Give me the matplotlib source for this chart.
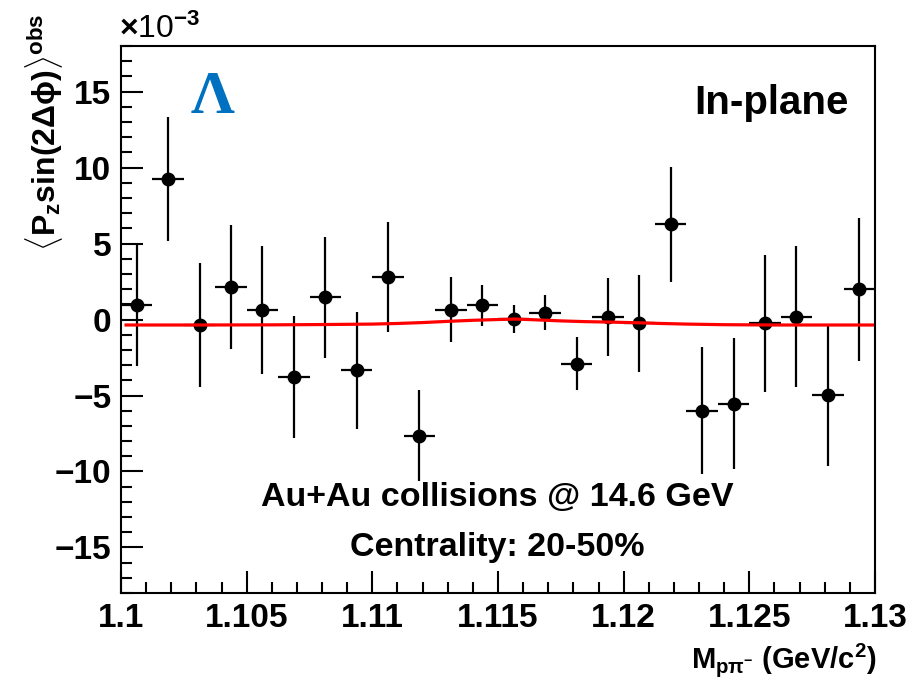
import numpy as np
import matplotlib
matplotlib.use("Agg")
import matplotlib.pyplot as plt
from matplotlib.ticker import MultipleLocator, FuncFormatter

# values in units of 1e-3
bin_lo = 1.1
bin_width = 0.00125
values = [0.97, 9.25, -0.36, 2.14, 0.63, -3.80, 1.46, -3.35, 2.82, -7.65, 0.63, 0.95,
          0.03, 0.45, -2.91, 0.16, -0.25, 6.27, -6.00, -5.54, -0.25, 0.18, -4.99, 1.99]
errors = [4.0, 4.1, 4.1, 4.1, 4.2, 4.0, 4.0, 3.86, 3.62, 3.0, 2.14, 1.35,
          0.93, 1.15, 1.75, 2.55, 3.2, 3.78, 4.17, 4.33, 4.52, 4.63, 4.63, 4.7]

# fit curve
fit_x = [1.1002, 1.103, 1.106, 1.108, 1.110, 1.111, 1.112, 1.113, 1.114, 1.115,
         1.1157, 1.1165, 1.1175, 1.1185, 1.1195, 1.1205, 1.1215, 1.1225, 1.124,
         1.126, 1.128, 1.1299]
fit_y = [-0.36, -0.36, -0.35, -0.33, -0.30, -0.26, -0.20, -0.12, -0.05, 0.0,
         0.03, -0.02, -0.09, -0.14, -0.17, -0.21, -0.26, -0.30, -0.34,
         -0.36, -0.36, -0.36]

centers = [bin_lo + bin_width * (i + 0.5) for i in range(len(values))]

plt.rcParams['font.family'] = ['Liberation Sans', 'DejaVu Sans']
plt.rcParams['font.weight'] = 'bold'
plt.rcParams['mathtext.fontset'] = 'custom'
plt.rcParams['mathtext.rm'] = 'Liberation Sans:bold'
plt.rcParams['mathtext.it'] = 'Liberation Sans:bold'
plt.rcParams['mathtext.bf'] = 'Liberation Sans:bold'

fig = plt.figure(figsize=(9.1, 6.84), dpi=100)
ax = fig.add_axes([0.133, 0.133, 0.8285, 0.7997])

ax.errorbar(centers, values, yerr=errors, xerr=bin_width / 2, fmt='o', color='black',
            markersize=9, elinewidth=1.6, capsize=0, zorder=3)
ax.plot(fit_x, fit_y, color='red', linewidth=2.3, zorder=4)

ax.set_xlim(1.1, 1.13)
ax.set_ylim(-18, 18)

ax.xaxis.set_major_locator(MultipleLocator(0.005))
ax.xaxis.set_minor_locator(MultipleLocator(0.001))
ax.yaxis.set_major_locator(MultipleLocator(5))
ax.yaxis.set_minor_locator(MultipleLocator(1))
ax.xaxis.set_major_formatter(FuncFormatter(lambda v, p: ('%.3f' % v).rstrip('0').rstrip('.')))
ax.yaxis.set_major_formatter(FuncFormatter(lambda v, p: ('%d' % round(v)).replace('-', '\u2212')))

ax.tick_params(which='both', direction='in', top=False, right=False, width=1.5)
ax.tick_params(which='major', length=16, labelsize=24, pad=7)
ax.tick_params(which='minor', length=8)
for s in ax.spines.values():
    s.set_linewidth(1.5)

fig.text(0.131, 0.957, r'$\times$10$^{-3}$', fontsize=23, ha='left', va='center',
         fontweight='normal')

fig.text(0.048, 0.98, r'$\langle$P$_{\rm z}$sin(2$\Delta\phi$)$\rangle^{\rm obs}$', fontsize=23,
         rotation=90, ha='center', va='top', fontweight='bold')
fig.text(0.963, 0.035, r'M$_{\rm p\pi^{-}}$ (GeV/c$^{2}$)', fontsize=21,
         ha='right', va='center', fontweight='bold')

ax.text(0.122, 0.905, '\u039b', transform=ax.transAxes, fontsize=44, color='#0070C0',
        fontweight='bold', family=['Liberation Serif', 'DejaVu Serif'], ha='center', va='center')
ax.text(0.965, 0.895, 'In-plane', transform=ax.transAxes, fontsize=29, fontweight='bold',
        ha='right', va='center')
ax.text(0.499, 0.1755, 'Au+Au collisions @ 14.6 GeV', transform=ax.transAxes, fontsize=24.5,
        fontweight='bold', ha='center', va='center')
ax.text(0.499, 0.084, 'Centrality: 20-50%', transform=ax.transAxes, fontsize=24.5,
        fontweight='bold', ha='center', va='center')

fig.savefig('out.png', dpi=100)
